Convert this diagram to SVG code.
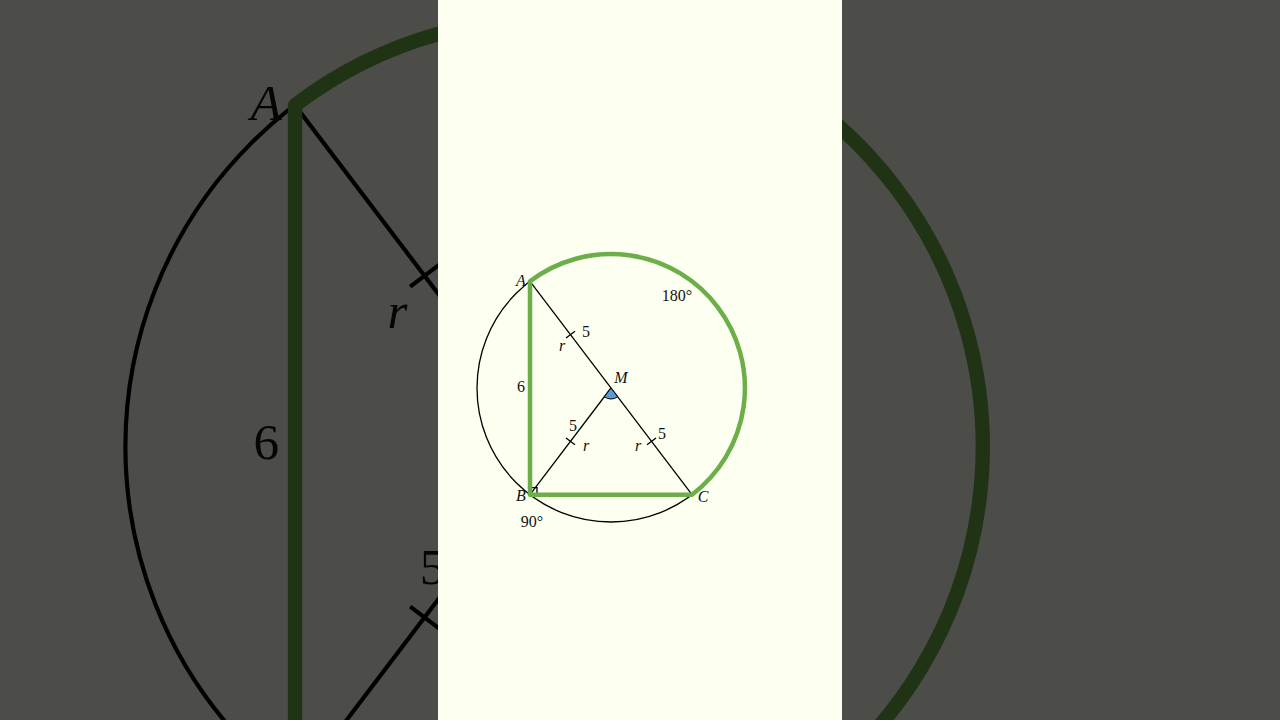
<svg xmlns="http://www.w3.org/2000/svg" xmlns:xlink="http://www.w3.org/1999/xlink" width="1280" height="720" viewBox="0 0 1280 720">
  <style>
    .thin { fill: none; stroke: #000; stroke-width: 1.3; }
    .green { fill: none; stroke: #6CAE48; stroke-width: 4.5; stroke-linejoin: round; }
    .lbl { font-family: "Liberation Serif", "DejaVu Serif", serif; font-size: 16px; fill: #111; text-anchor: middle; }
    .it { font-style: italic; }
  </style>
  <defs>
    <g id="figure">
      <g id="circle">
        <circle class="thin" cx="611" cy="388" r="134"/>
      </g>
      <g id="segments">
        <line class="thin" x1="530" y1="281.3" x2="692" y2="494.7"/>
        <line class="thin" x1="611" y1="388" x2="530" y2="494.7"/>
        <line class="thin" x1="566" y1="338" x2="575" y2="331.2"/>
        <line class="thin" x1="647" y1="444.8" x2="656" y2="438"/>
        <line class="thin" x1="566" y1="438" x2="575" y2="444.8"/>
        <path class="thin" d="M530,487.7 H537 V494.7"/>
        <path d="M611,388 L604.35,396.76 A11,11 0 0 0 617.65,396.76 Z" fill="#5B9BD5" stroke="#000" stroke-width="1"/>
      </g>
      <g id="green-path">
        <path class="green" d="M530,494.7 V281.3 A1,1 0 0 1 692,494.7 H530 Z"/>
      </g>
      <g id="labels">
        <text class="lbl it" x="521" y="286">A</text>
        <text class="lbl it" x="521" y="501">B</text>
        <text class="lbl it" x="703" y="502">C</text>
        <text class="lbl it" x="621" y="383">M</text>
        <text class="lbl" x="521" y="392">6</text>
        <text class="lbl" x="586" y="337">5</text>
        <text class="lbl it" x="562" y="351">r</text>
        <text class="lbl" x="662" y="439">5</text>
        <text class="lbl it" x="638" y="451">r</text>
        <text class="lbl" x="573" y="431">5</text>
        <text class="lbl it" x="586" y="451">r</text>
        <text class="lbl" x="677" y="301">180°</text>
        <text class="lbl" x="532" y="527">90°</text>
      </g>
    </g>
  </defs>
  <g id="background">
    <rect x="0" y="0" width="1280" height="720" fill="#FDFFF0"/>
    <use xlink:href="#figure" href="#figure" transform="translate(-1401,-795) scale(3.2)"/>
    <rect x="0" y="0" width="1280" height="720" fill="#000" opacity="0.7"/>
  </g>
  <g id="panel">
    <rect x="438" y="0" width="404" height="720" fill="#FDFFF0"/>
    <use xlink:href="#figure" href="#figure"/>
  </g>
</svg>
